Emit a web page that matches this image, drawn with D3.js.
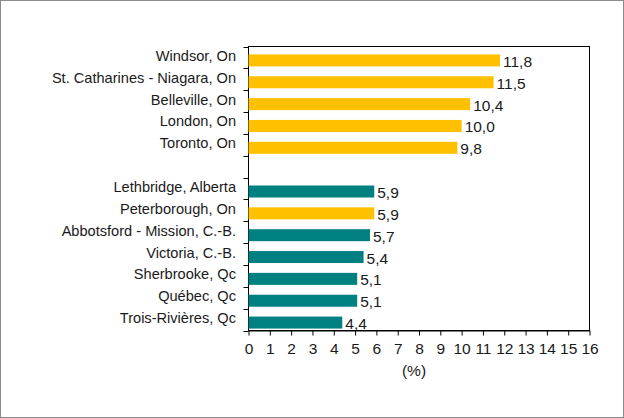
<!DOCTYPE html>
<html><head><meta charset="utf-8">
<script src="https://cdn.jsdelivr.net/npm/d3@7"></script>
<style>
html,body{margin:0;padding:0;background:#fff;}
svg{display:block;}
text{font-family:"Liberation Sans",Arial,sans-serif;fill:#1a1a1a;}
</style></head>
<body>
<svg id="c" width="624" height="418"></svg>
<script>
const categories = ["Windsor, On","St. Catharines - Niagara, On","Belleville, On","London, On","Toronto, On","",
  "Lethbridge, Alberta","Peterborough, On","Abbotsford - Mission, C.-B.","Victoria, C.-B.","Sherbrooke, Qc","Québec, Qc","Trois-Rivières, Qc"];
const values = [11.8,11.5,10.4,10.0,9.8,null,5.9,5.9,5.7,5.4,5.1,5.1,4.4];
const groups = ["on","on","on","on","on",null,"other","on","other","other","other","other","other"];
const xTicks = [0,1,2,3,4,5,6,7,8,9,10,11,12,13,14,15,16];
const xTitle = "(%)";

const colors = {on:"#FFC000", other:"#008080"};
const svg = d3.select("#c");
svg.append("rect").attr("x",0.5).attr("y",0.5).attr("width",623).attr("height",417)
  .attr("fill","#fff").attr("stroke","#8c8c8c").attr("stroke-width",1);

const L=248.5, R=589.5, T=46.5, B=330.5;
const x = d3.scaleLinear().domain([0,16]).range([L,R]);
const keys = categories.map((c,i)=>i);
const y = d3.scaleBand().domain(keys).range([T+3,B+3]).paddingInner(0.45).paddingOuter(0.225);

// plot border
svg.append("rect").attr("x",L).attr("y",T).attr("width",R-L).attr("height",B-T)
  .attr("fill","none").attr("stroke","#000").attr("stroke-width",1);

// bars
const data = keys.filter(i=>values[i]!=null);
svg.selectAll("rect.bar").data(data).enter().append("rect").attr("class","bar")
  .attr("x",L).attr("y",i=>y(i)).attr("width",i=>x(values[i])-L).attr("height",y.bandwidth())
  .attr("fill",i=>colors[groups[i]]);

// value labels
const fmt = v=>d3.format(".1f")(v).replace(".",",");
svg.selectAll("text.val").data(data).enter().append("text").attr("class","val")
  .attr("x",i=>x(values[i])+3).attr("y",i=>y(i)+y.bandwidth()/2+6.5)
  .attr("font-size","15.5px").text(i=>fmt(values[i]));

// category labels
svg.selectAll("text.cat").data(keys).enter().append("text").attr("class","cat")
  .attr("x",236).attr("y",i=>y(i)+y.bandwidth()/2+0.5)
  .attr("text-anchor","end").attr("font-size","14.6px").text(i=>categories[i]);

// left tick marks at boundaries
const step = y.step();
const bounds = d3.range(categories.length+1).map(i=>T+i*step);
svg.selectAll("line.yt").data(bounds).enter().append("line")
  .attr("x1",L-5).attr("x2",L).attr("y1",d=>Math.round(d)+0.5).attr("y2",d=>Math.round(d)+0.5)
  .attr("stroke","#000");

// x axis
const xa = svg.append("g").attr("transform",`translate(0,${B})`)
  .call(d3.axisBottom(x).tickValues(xTicks).tickSize(5).tickSizeOuter(0).tickFormat(d3.format("d")));
xa.select(".domain").attr("stroke","#000");
xa.selectAll(".tick line").attr("stroke","#000");
xa.selectAll(".tick text").attr("font-size","15.5px").attr("font-family","Liberation Sans, Arial, sans-serif")
  .attr("fill","#1a1a1a").attr("y",23).attr("dy","0");

svg.append("text").attr("x",414).attr("y",376).attr("text-anchor","middle")
  .attr("font-size","15.5px").text(xTitle);
</script>
</body></html>
